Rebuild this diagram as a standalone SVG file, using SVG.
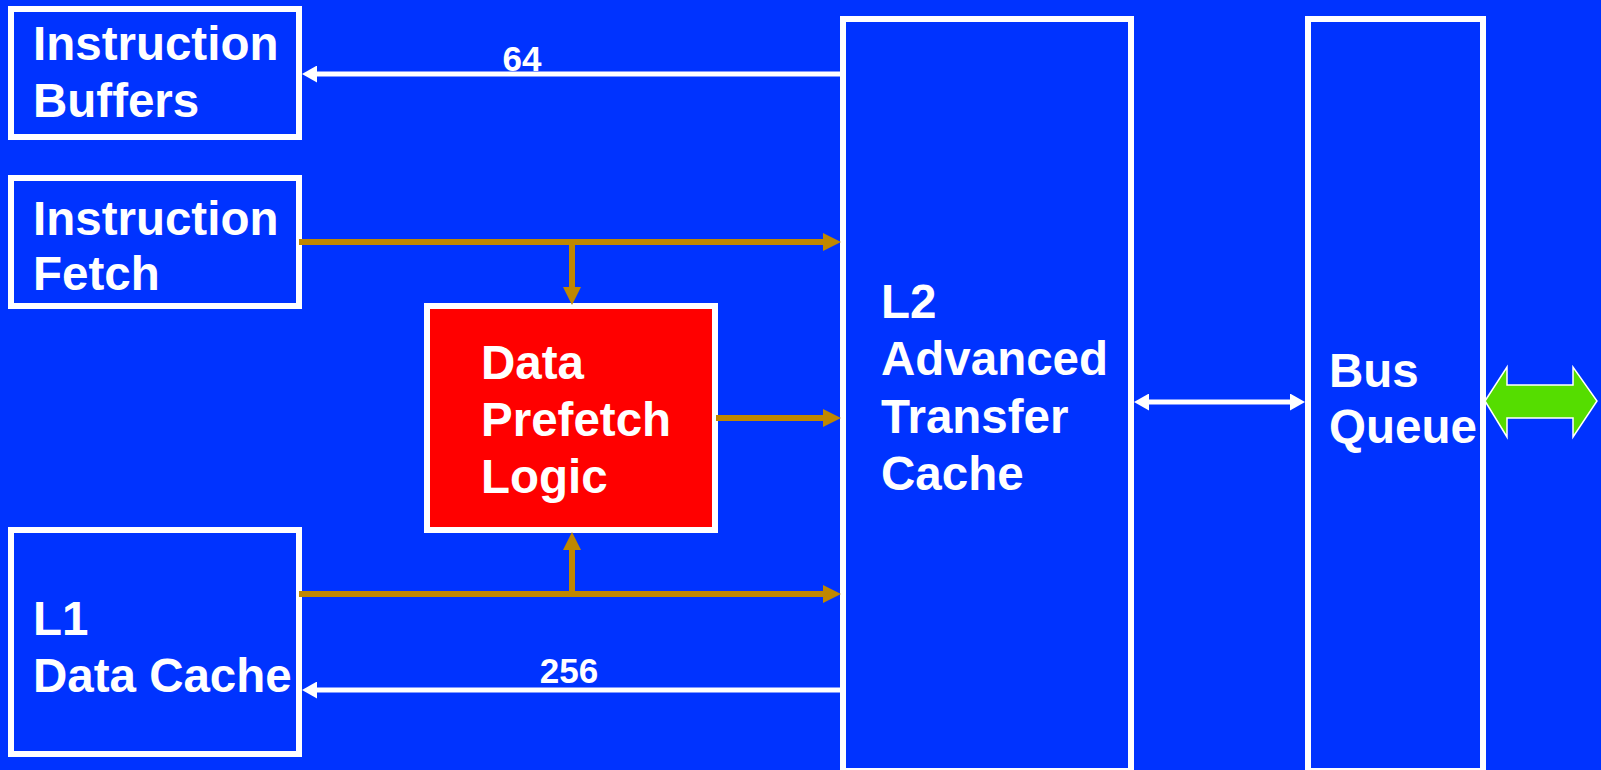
<svg xmlns="http://www.w3.org/2000/svg" width="1601" height="770" viewBox="0 0 1601 770">
  <style>
    .box { fill: #0033ff; stroke: #ffffff; stroke-width: 6; }
    .logic { fill: #ff0000; stroke: #ffffff; stroke-width: 6; }
    .label { fill: #ffffff; font-family: "Liberation Sans", Arial, Helvetica, sans-serif; font-weight: bold; font-size: 47.5px; }
    .width { fill: #ffffff; font-family: "Liberation Sans", Arial, Helvetica, sans-serif; font-weight: bold; font-size: 35px; text-anchor: middle; }
    .bus { fill: none; stroke: #ffffff; stroke-width: 5; }
    .ctl { fill: none; stroke: #bf8700; stroke-width: 6; }
  </style>
  <defs>
    <marker id="headGold" markerUnits="userSpaceOnUse" viewBox="0 0 18 18" refX="0" refY="9" markerWidth="18" markerHeight="18" orient="auto-start-reverse">
      <path d="M0,0 L18,9 L0,18 Z" fill="#bf8700"/>
    </marker>
    <marker id="headWhite" markerUnits="userSpaceOnUse" viewBox="0 0 15 17" refX="0" refY="8.5" markerWidth="15" markerHeight="17" orient="auto-start-reverse">
      <path d="M0,0 L15,8.5 L0,17 Z" fill="#ffffff"/>
    </marker>
  </defs>

  <rect x="0" y="0" width="1601" height="770" fill="#0033ff"/>

  <g id="instruction-buffers">
    <rect class="box" x="11" y="9" width="288" height="128"/>
    <text class="label" x="33" y="60">Instruction</text>
    <text class="label" x="33" y="117">Buffers</text>
  </g>

  <g id="instruction-fetch">
    <rect class="box" x="11" y="178" width="288" height="128"/>
    <text class="label" x="33" y="235">Instruction</text>
    <text class="label" x="33" y="290">Fetch</text>
  </g>

  <g id="l1-data-cache">
    <rect class="box" x="11" y="530" width="288" height="224"/>
    <text class="label" x="33" y="635">L1</text>
    <text class="label" x="33" y="692">Data Cache</text>
  </g>

  <g id="data-prefetch-logic">
    <rect class="logic" x="427" y="306" width="288" height="224"/>
    <text class="label" x="481" y="379">Data</text>
    <text class="label" x="481" y="436">Prefetch</text>
    <text class="label" x="481" y="493">Logic</text>
  </g>

  <g id="l2-cache">
    <rect class="box" x="843" y="19" width="288" height="752"/>
    <text class="label" x="881" y="318">L2</text>
    <text class="label" x="881" y="375">Advanced</text>
    <text class="label" x="881" y="433">Transfer</text>
    <text class="label" x="881" y="490">Cache</text>
  </g>

  <g id="bus-queue">
    <rect class="box" x="1308" y="19" width="175" height="752"/>
    <text class="label" x="1329" y="387">Bus</text>
    <text class="label" x="1329" y="443">Queue</text>
  </g>

  <g id="connectors">
    <!-- L2 to instruction buffers, 64 bits -->
    <line class="bus" x1="843" y1="74" x2="317" y2="74" marker-end="url(#headWhite)"/>
    <text class="width" x="522" y="71">64</text>
    <!-- L2 to L1 data cache, 256 bits -->
    <line class="bus" x1="843" y1="690" x2="317" y2="690" marker-end="url(#headWhite)"/>
    <text class="width" x="569" y="683">256</text>

    <!-- instruction fetch requests -->
    <line class="ctl" x1="299" y1="242" x2="823" y2="242" marker-end="url(#headGold)"/>
    <line class="ctl" x1="572" y1="242" x2="572" y2="287" marker-end="url(#headGold)"/>
    <!-- prefetch requests -->
    <line class="ctl" x1="716" y1="418" x2="823" y2="418" marker-end="url(#headGold)"/>
    <!-- L1 miss requests -->
    <line class="ctl" x1="299" y1="594" x2="823" y2="594" marker-end="url(#headGold)"/>
    <line class="ctl" x1="572" y1="594" x2="572" y2="550" marker-end="url(#headGold)"/>

    <!-- L2 to bus queue -->
    <line class="bus" x1="1149" y1="402" x2="1290" y2="402" marker-start="url(#headWhite)" marker-end="url(#headWhite)"/>

    <!-- external system bus -->
    <polygon points="1485,401 1507,367 1507,385 1573,385 1573,367 1597,401 1573,437 1573,418 1507,418 1507,437" fill="#55dd00" stroke="#ffffff" stroke-width="1.5"/>
  </g>
</svg>
